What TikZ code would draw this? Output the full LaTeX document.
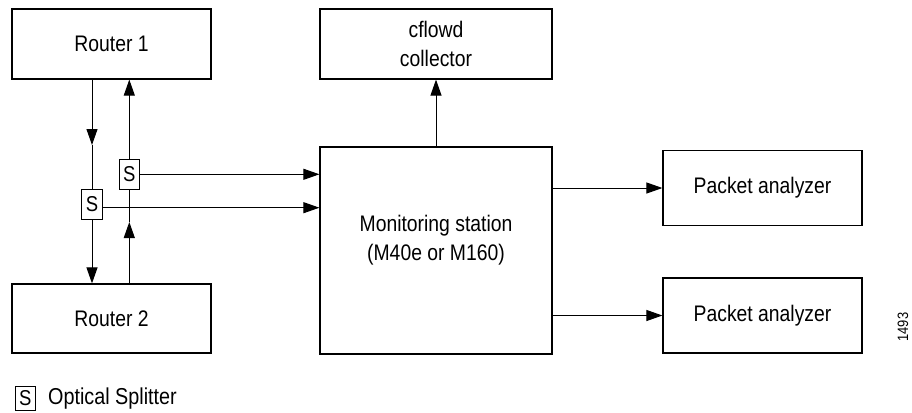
\documentclass[tikz,border=0pt]{standalone}
\usepackage{fontspec}
\setmainfont{Liberation Sans}[FakeStretch=0.86]
\usetikzlibrary{arrows.meta}
\begin{document}
\begin{tikzpicture}[x=1pt,y=-1pt,
  box/.style={draw,line width=1.2pt,inner sep=0pt,align=center,font=\fontsize{22.5}{29}\selectfont},
  splitbox/.style={draw,line width=1.1pt,inner sep=0pt,minimum width=20.5pt,minimum height=30pt,font=\fontsize{21.5}{21.5}\selectfont},
  conn/.style={line width=1pt},
  arr/.style={conn,-{Triangle[length=16pt,width=11pt]}}]
\useasboundingbox (0,0) rectangle (912,412);
\node[box,minimum width=199pt,minimum height=70pt] (r1) at (111.5,44) {Router 1};
\node[box,minimum width=199pt,minimum height=69pt] (r2) at (111.5,318.5) {Router 2};
\node[box,minimum width=232pt,minimum height=70pt] (cf) at (436,44) {cflowd\\collector};
\node[box,minimum width=232pt,minimum height=207pt,
  label={[font=\fontsize{22.5}{29}\selectfont,align=center,yshift=10pt]center:Monitoring station\\(M40e or M160)}] (mon) at (436,250.5) {};
\node[box,minimum width=199pt,minimum height=75pt] (pa1) at (762.5,188) {Packet analyzer};
\node[box,minimum width=199pt,minimum height=75pt] (pa2) at (762.5,315.5) {Packet analyzer};
\node[splitbox] (s1) at (129.3,174.3) {S};
\node[splitbox] (s2) at (92,204.3) {S};
\coordinate (m1) at (92,145);
\coordinate (m2) at (129.3,222);
% left path: Router 1 -> Router 2
\draw[arr] (r1.south -| s2.north) -- (m1);
\draw[conn] (m1) -- (s2.north);
\draw[arr] (s2.south) -- (r2.north -| s2.south);
% right path: Router 2 -> Router 1
\draw[arr] (r2.north -| s1.south) -- (m2);
\draw[conn] (m2) -- (s1.south);
\draw[arr] (s1.north) -- (r1.south -| s1.north);
% splitter taps
\draw[arr] (s1.east) -- (s1.east -| mon.west);
\coordinate (t2) at ([yshift=-3.4pt]s2.east);
\draw[arr] (t2) -- (t2 -| mon.west);
% monitoring outputs
\draw[arr] (mon.north) -- (cf.south);
\draw[arr] (pa1.west -| mon.east) -- (pa1.west);
\draw[arr] (pa2.west -| mon.east) -- (pa2.west);
% legend
\node[draw,line width=1.1pt,inner sep=0pt,minimum width=20pt,minimum height=24pt,font=\fontsize{21.5}{21.5}\selectfont] (lg) at (25.3,398.5) {S};
\node[anchor=west,inner sep=0pt,font=\fontsize{23}{23}\selectfont] (lgt) at (48,398.5) {Optical Splitter};
\node[rotate=90,inner sep=0pt,font=\fontsize{15}{15}\selectfont] (num) at (903,327) {1493};
\end{tikzpicture}
\end{document}
